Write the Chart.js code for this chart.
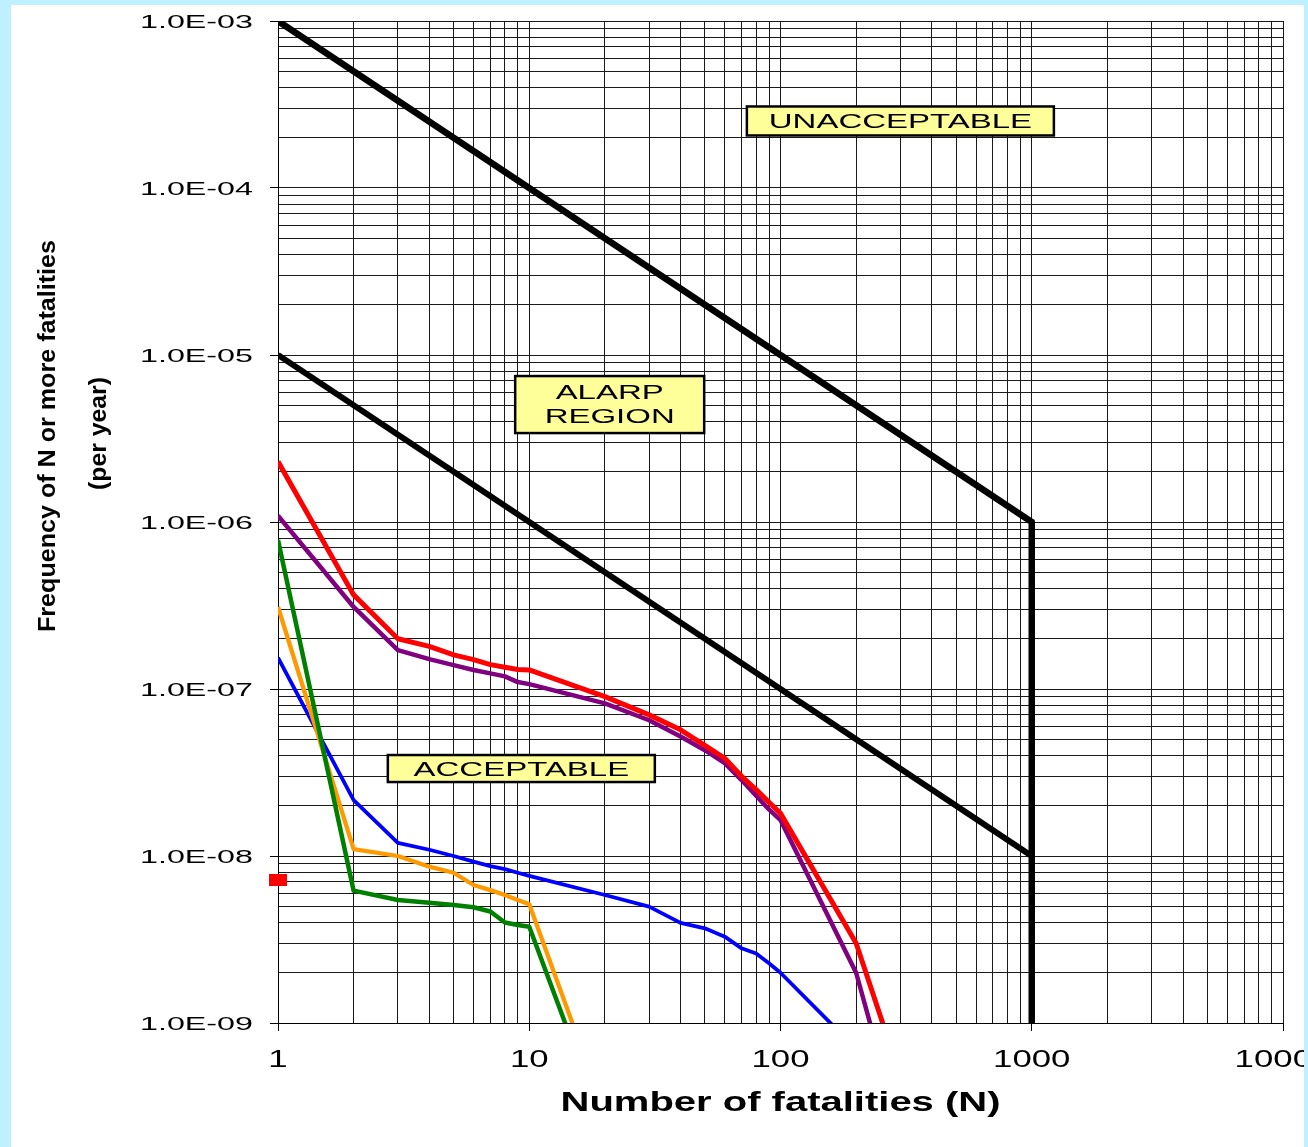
<!DOCTYPE html>
<html>
<head>
<meta charset="utf-8">
<script src="https://cdn.jsdelivr.net/npm/chart.js@4.4.1/dist/chart.umd.min.js"></script>
<style>
  html, body { margin: 0; padding: 0; background: #fff; }
  canvas { display: block; }
</style>
</head>
<body>
<canvas id="fnChart" width="1308" height="1147"></canvas>
<script>
// tick labels
const xTickValues = [1, 10, 100, 1000, 10000];
const xTickLabels = ["1", "10", "100", "1000", "10000"];
const yTickValues = [1e-9, 1e-8, 1e-7, 1e-6, 1e-5, 1e-4, 1e-3];
const yTickLabels = ["1.0E-09", "1.0E-08", "1.0E-07", "1.0E-06", "1.0E-05", "1.0E-04", "1.0E-03"];

// criteria lines
const upperN = [1, 1000, 1000];
const upperF = [1e-3, 1e-6, 1e-9];
const lowerN = [1, 1000];
const lowerF = [1e-5, 1e-8];

// F-N curves
const nLong = [1, 2, 3, 4, 5, 6, 7, 8, 9, 10, 20, 30, 40, 50, 60, 70, 80, 90, 100, 200, 300];
const redF = [2.3e-6, 3.66e-7, 2.0e-7, 1.8e-7, 1.6e-7, 1.5e-7, 1.4e-7, 1.35e-7, 1.31e-7, 1.3e-7,
  9.0e-8, 7.0e-8, 5.7e-8, 4.6e-8, 3.85e-8, 3.0e-8, 2.5e-8, 2.1e-8, 1.8e-8, 3.0e-9, 4.8e-10];
const purpleF = [1.09e-6, 3.1e-7, 1.71e-7, 1.51e-7, 1.39e-7, 1.3e-7, 1.24e-7, 1.19e-7, 1.1e-7, 1.07e-7,
  8.2e-8, 6.5e-8, 5.2e-8, 4.3e-8, 3.6e-8, 2.85e-8, 2.3e-8, 1.9e-8, 1.64e-8, 2.0e-9, 2.2e-10];
const nBlue = [1, 2, 3, 4, 5, 6, 7, 8, 9, 10, 20, 30, 40, 50, 60, 70, 80, 90, 100, 200];
const blueF = [1.54e-7, 2.16e-8, 1.2e-8, 1.09e-8, 1.0e-8, 9.25e-9, 8.7e-9, 8.35e-9, 7.94e-9, 7.6e-9,
  5.84e-9, 4.98e-9, 3.98e-9, 3.69e-9, 3.29e-9, 2.8e-9, 2.61e-9, 2.28e-9, 2.0e-9, 7.0e-10];
const nShort = [1, 2, 3, 4, 5, 6, 7, 8, 9, 10, 20];
const orangeF = [3.1e-7, 1.1e-8, 1.0e-8, 8.63e-9, 7.94e-9, 6.7e-9, 6.25e-9, 5.84e-9, 5.45e-9, 5.14e-9, 2.9e-10];
const greenF = [7.8e-7, 6.2e-9, 5.45e-9, 5.25e-9, 5.09e-9, 4.93e-9, 4.65e-9, 4.0e-9, 3.86e-9, 3.77e-9, 2.3e-10];
const markerN = [1];
const markerF = [7.2e-9];

// region labels (anchored in data space)
const regionText = [["UNACCEPTABLE"], ["ALARP", "REGION"], ["ACCEPTABLE"]];
const regionN = [300, 20.9, 9.3];
const regionF = [2.52e-4, 5.05e-6, 3.34e-8];

const FONT = '"Liberation Sans", Arial, sans-serif';
const pts = (xs, ys) => xs.map((n, i) => ({ x: n, y: ys[i] }));
const isMajor = (v) => Math.abs(Math.log10(v) - Math.round(Math.log10(v))) < 1e-9;

function logTicks(fromExp, toExp) {
  const out = [];
  for (let e = fromExp; e < toExp; e++) {
    for (let m = 1; m <= 9; m++) out.push({ value: m * Math.pow(10, e) });
  }
  out.push({ value: Math.pow(10, toExp) });
  return out;
}

// text helper: draws horizontally stretched text centred on yc (cap height)
function stretched(ctx, str, x, yc, size, bold, sx, align) {
  ctx.save();
  ctx.font = (bold ? "bold " : "") + size + "px " + FONT;
  ctx.fillStyle = "#000";
  ctx.textAlign = align;
  ctx.textBaseline = "alphabetic";
  ctx.translate(x, yc);
  ctx.scale(sx, 1);
  ctx.fillText(str, 0, 0.358 * size);
  ctx.restore();
}

function widthOf(ctx, str, size, bold) {
  ctx.save();
  ctx.font = (bold ? "bold " : "") + size + "px " + FONT;
  const w = ctx.measureText(str).width;
  ctx.restore();
  return w;
}

const boxSizes = [[307, 29], [189, 57], [267, 27]];
const lineOffsets = [[0], [-13, 11], [0]];

const paint = {
  id: "paint",
  beforeDraw(chart) {
    const ctx = chart.ctx;
    ctx.save();
    ctx.fillStyle = "#fff";
    ctx.fillRect(0, 0, chart.width, chart.height);
    ctx.restore();
  },
  afterDraw(chart) {
    const { ctx, chartArea: a } = chart;
    const xs = chart.scales.x, ys = chart.scales.y;

    // y tick labels
    const ySx = 113 / widthOf(ctx, "1.0E-03", 19, false);
    yTickValues.forEach((v, i) => {
      stretched(ctx, yTickLabels[i], a.left - 25, ys.getPixelForValue(v), 19, false, ySx, "right");
    });
    // x tick labels
    xTickValues.forEach((v, i) => {
      stretched(ctx, xTickLabels[i], xs.getPixelForValue(v), a.bottom + 35, 24, false, 1.45, "center");
    });
    // x title
    const xt = "Number of fatalities (N)";
    stretched(ctx, xt, (a.left + a.right) / 2, a.bottom + 78, 28, true, 440 / widthOf(ctx, xt, 28, true), "center");

    // y title (rotated)
    const yt = [["Frequency of N or more fatalities", 46.5, 436, 392], ["(per year)", 97.5, 433.5, 113]];
    yt.forEach(([str, cx, cy, len]) => {
      const w = widthOf(ctx, str, 20, true);
      ctx.save();
      ctx.font = "bold 20px " + FONT;
      ctx.fillStyle = "#000";
      ctx.textAlign = "center";
      ctx.translate(cx, cy);
      ctx.rotate(-Math.PI / 2);
      ctx.scale(len / w, 1.2);
      ctx.fillText(str, 0, 0.358 * 20);
      ctx.restore();
    });

    // region boxes
    regionText.forEach((lines, i) => {
      const cx = xs.getPixelForValue(regionN[i]);
      const cy = ys.getPixelForValue(regionF[i]);
      const [bw, bh] = boxSizes[i];
      ctx.save();
      ctx.fillStyle = "#ffff99";
      ctx.strokeStyle = "#000";
      ctx.lineWidth = 2.5;
      ctx.fillRect(cx - bw / 2, cy - bh / 2, bw, bh);
      ctx.strokeRect(cx - bw / 2, cy - bh / 2, bw, bh);
      ctx.restore();
      lines.forEach((ln, j) => {
        stretched(ctx, ln, cx, cy + lineOffsets[i][j], 21, false, 1.57, "center");
      });
    });

    // light blue frame
    ctx.save();
    ctx.fillStyle = "#bff0ff";
    ctx.fillRect(0, 0, 11, chart.height);
    ctx.fillRect(0, 0, chart.width, 5);
    ctx.fillRect(1304, 0, chart.width - 1304, chart.height);
    ctx.restore();
  }
};

const markerImg = document.createElement("canvas");
markerImg.width = 18;
markerImg.height = 12;
const mctx = markerImg.getContext("2d");
mctx.fillStyle = "#ff0000";
mctx.fillRect(0, 0, 18, 12);

const lineDs = (data, color, width) => ({
  data, borderColor: color, backgroundColor: color, borderWidth: width,
  pointRadius: 0, tension: 0, fill: false, borderJoinStyle: "round", borderCapStyle: "butt"
});

new Chart(document.getElementById("fnChart"), {
  type: "line",
  data: {
    datasets: [
      lineDs(pts(upperN, upperF), "#000", 6.5),
      lineDs(pts(lowerN, lowerF), "#000", 6),
      {
        data: pts(markerN, markerF), showLine: false, pointStyle: markerImg,
        pointRadius: 9, clip: false, borderWidth: 0
      },
      lineDs(pts(nLong, redF), "#ff0000", 5),
      lineDs(pts(nLong, purpleF), "#800080", 4.5),
      lineDs(pts(nShort, greenF), "#008000", 4.5),
      lineDs(pts(nShort, orangeF), "#ff9900", 4.3),
      lineDs(pts(nBlue, blueF), "#0000ff", 3.8)
    ]
  },
  options: {
    responsive: false,
    animation: false,
    events: [],
    layout: { padding: { left: 270, top: 21, right: 25, bottom: 116 } },
    plugins: { legend: { display: false }, tooltip: { enabled: false } },
    scales: {
      x: {
        type: "logarithmic", min: 1, max: 10000,
        afterBuildTicks: (s) => { s.ticks = logTicks(0, 4); },
        ticks: { display: false },
        grid: {
          color: "#1a1a1a", lineWidth: 1, tickLength: 8,
          tickColor: (c) => (c.tick && isMajor(c.tick.value) ? "#000" : "rgba(0,0,0,0)")
        },
        border: { display: true, color: "#000", width: 1 }
      },
      y: {
        type: "logarithmic", min: 1e-9, max: 1e-3,
        afterBuildTicks: (s) => { s.ticks = logTicks(-9, -3); },
        ticks: { display: false },
        grid: {
          color: "#1a1a1a", lineWidth: 1, tickLength: 8,
          tickColor: (c) => (c.tick && isMajor(c.tick.value) ? "#000" : "rgba(0,0,0,0)")
        },
        border: { display: true, color: "#000", width: 1 }
      }
    }
  },
  plugins: [paint]
});
</script>
</body>
</html>
